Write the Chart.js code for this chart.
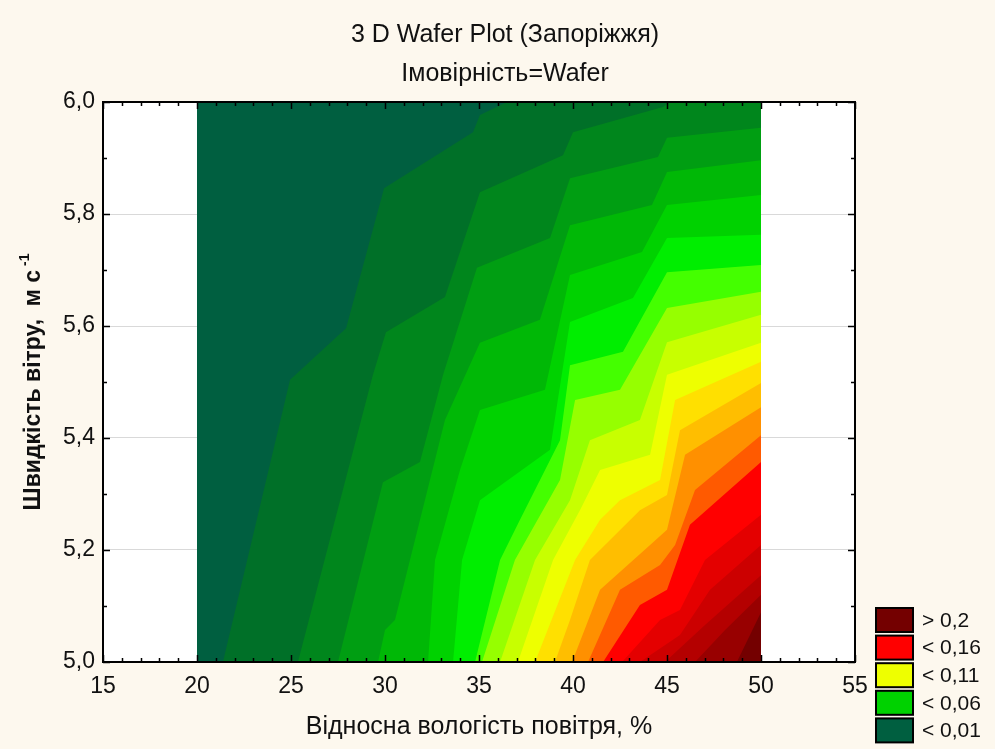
<!DOCTYPE html>
<html>
<head>
<meta charset="utf-8">
<title>3 D Wafer Plot</title>
<script src="https://cdn.jsdelivr.net/npm/chart.js@4.4.1/dist/chart.umd.min.js"></script>
<style>
    html, body { margin: 0; padding: 0; background: #fdf8ee; }
    #box { width: 995px; height: 749px; }
</style>
</head>
<body>
<div id="box"><canvas id="waferChart" width="995" height="749"></canvas></div>
<script>
// contour levels (probability)
const levels = [0.01, 0.02, 0.03, 0.04, 0.05, 0.06, 0.07, 0.08, 0.09, 0.10,
                0.11, 0.12, 0.13, 0.14, 0.15, 0.16, 0.17, 0.18, 0.19, 0.20];

// filled region of the wafer (humidity range)
const waferX = [20, 50];
const waferTop = 6.0;

// contour boundaries: [humidity %, wind speed m/s]
const lvl01 = [[21.38, 5.0], [24.95, 5.504], [27.93, 5.596], [29.95, 5.846], [34.68, 5.946], [35.05, 5.977], [36.49, 6.0], [50, 6.0]];
const lvl02 = [[25.37, 5.0], [29.36, 5.513], [30.05, 5.589], [33.19, 5.652], [35.05, 5.839], [39.47, 5.905], [40.0, 5.946], [44.79, 5.991], [45.16, 6.0], [50, 6.0]];
const lvl03 = [[27.5, 5.0], [29.89, 5.321], [31.86, 5.357], [33.09, 5.513], [34.89, 5.704], [38.78, 5.757], [39.84, 5.864], [44.52, 5.902], [45.0, 5.936], [50, 5.954]];
const lvl04 = [[29.63, 5.0], [30.0, 5.057], [30.53, 5.075], [33.19, 5.432], [35.05, 5.57], [38.24, 5.611], [39.84, 5.78], [44.2, 5.816], [45.0, 5.875], [50, 5.896]];
const lvl05 = [[32.29, 5.0], [32.66, 5.182], [33.99, 5.343], [35.05, 5.45], [38.51, 5.486], [39.84, 5.691], [43.67, 5.732], [45.0, 5.816], [50, 5.834]];
const lvl06 = [[33.62, 5.0], [34.1, 5.182], [35.05, 5.289], [38.78, 5.379], [39.84, 5.607], [43.19, 5.65], [45.0, 5.757], [50, 5.763]];
const lvl07 = [[34.79, 5.0], [36.12, 5.182], [37.18, 5.254], [39.31, 5.396], [39.84, 5.53], [42.66, 5.554], [45.0, 5.696], [50, 5.709]];
const lvl08 = [[35.16, 5.0], [36.91, 5.182], [39.31, 5.325], [40.11, 5.468], [42.5, 5.486], [45.0, 5.632], [50, 5.661]];
const lvl09 = [[36.12, 5.0], [37.98, 5.182], [39.84, 5.289], [40.9, 5.396], [43.56, 5.432], [45.0, 5.571], [50, 5.62]];
const lvl10 = [[37.07, 5.0], [38.94, 5.182], [40.37, 5.271], [41.44, 5.343], [44.1, 5.37], [45.0, 5.513], [50, 5.57]];
const lvl11 = [[37.98, 5.0], [40.11, 5.182], [41.44, 5.254], [42.5, 5.289], [44.63, 5.325], [45.43, 5.468], [50, 5.536]];
const lvl12 = [[39.04, 5.0], [39.84, 5.075], [40.9, 5.182], [43.56, 5.271], [45.0, 5.298], [45.69, 5.414], [50, 5.498]];
const lvl13 = [[39.95, 5.0], [41.44, 5.129], [44.1, 5.209], [45.0, 5.236], [45.96, 5.37], [50, 5.455]];
const lvl14 = [[40.8, 5.0], [42.5, 5.129], [44.63, 5.173], [45.43, 5.209], [46.49, 5.307], [50, 5.405]];
const lvl15 = [[41.6, 5.0], [43.56, 5.102], [45.0, 5.129], [46.22, 5.245], [50, 5.357]];
const lvl16 = [[42.61, 5.0], [44.63, 5.075], [45.69, 5.093], [47.02, 5.182], [50, 5.263]];
const lvl17 = [[43.56, 5.0], [45.69, 5.048], [47.29, 5.129], [50, 5.209]];
const lvl18 = [[44.89, 5.0], [47.02, 5.066], [50, 5.155]];
const lvl19 = [[46.49, 5.0], [48.09, 5.057], [50, 5.12]];
const lvl20 = [[48.72, 5.0], [50, 5.089]];

const contours = [lvl01, lvl02, lvl03, lvl04, lvl05, lvl06, lvl07, lvl08, lvl09, lvl10,
                  lvl11, lvl12, lvl13, lvl14, lvl15, lvl16, lvl17, lvl18, lvl19, lvl20];

// axis ticks
const xTicks = [15, 20, 25, 30, 35, 40, 45, 50, 55];
const yTicks = [5.0, 5.2, 5.4, 5.6, 5.8, 6.0];

// legend
const legendLabels = ['> 0,2', '< 0,16', '< 0,11', '< 0,06', '< 0,01'];
const legendBands = [20, 15, 10, 5, 0];

// colours of the bands, lowest first
const bandColors = [
    '#005f40', '#007028', '#00861c', '#009e12', '#00b806', '#00d200', '#00ee00',
    '#44ff00', '#96ff00', '#c8ff00', '#eeff00', '#ffe000', '#ffbe00', '#ff9000',
    '#ff5a00', '#ff0000', '#e40000', '#cc0000', '#b40000', '#980000', '#740000'
];

const fontFamily = "'Liberation Sans', Arial, sans-serif";
Chart.defaults.font.family = fontFamily;
Chart.defaults.color = '#111';

const datasets = [{
    label: 'base',
    data: waferX.map(x => ({ x: x, y: waferTop })),
    showLine: true,
    fill: 'start',
    backgroundColor: bandColors[0],
    borderColor: 'rgba(0,0,0,0)',
    borderWidth: 0,
    pointRadius: 0,
    order: 100
}];

contours.forEach((pts, i) => {
    datasets.push({
        label: String(levels[i]),
        data: pts.map(p => ({ x: p[0], y: p[1] })),
        showLine: true,
        fill: 'start',
        backgroundColor: bandColors[i + 1],
        borderColor: 'rgba(0,0,0,0)',
        borderWidth: 0,
        pointRadius: 0,
        tension: 0,
        order: 99 - i
    });
});

const backgroundPlugin = {
    id: 'background',
    beforeDraw(chart) {
        const { ctx, chartArea: a } = chart;
        ctx.save();
        ctx.fillStyle = '#fdf8ee';
        ctx.fillRect(0, 0, chart.width, chart.height);
        ctx.fillStyle = '#ffffff';
        ctx.fillRect(a.left, a.top, a.right - a.left, a.bottom - a.top);
        ctx.restore();
    }
};

const framePlugin = {
    id: 'frame',
    afterDatasetsDraw(chart) {
        const { ctx, chartArea: a, scales: { x, y } } = chart;
        ctx.save();
        ctx.strokeStyle = '#000';
        ctx.lineWidth = 1.5;
        ctx.beginPath();
        for (let v = 15; v <= 55; v++) {
            const px = Math.round(x.getPixelForValue(v)) + 0.5;
            const len = v % 5 === 0 ? 7 : 4;
            ctx.moveTo(px, a.bottom); ctx.lineTo(px, a.bottom - len);
            ctx.moveTo(px, a.top); ctx.lineTo(px, a.top + len);
        }
        for (let i = 0; i <= 10; i++) {
            const py = Math.round(y.getPixelForValue(5 + i / 10)) + 0.5;
            const len = i % 2 === 0 ? 7 : 4;
            ctx.moveTo(a.left, py); ctx.lineTo(a.left + len, py);
            ctx.moveTo(a.right, py); ctx.lineTo(a.right - len, py);
        }
        ctx.stroke();
        ctx.lineWidth = 2;
        ctx.strokeRect(a.left, a.top, a.right - a.left, a.bottom - a.top);
        ctx.restore();
    }
};

const yTitlePlugin = {
    id: 'yTitle',
    afterDraw(chart) {
        const { ctx, chartArea: a } = chart;
        const main = 'Швидкість вітру,  м с';
        const sup = '-1';
        ctx.save();
        ctx.fillStyle = '#111';
        ctx.textBaseline = 'middle';
        ctx.font = 'bold 23px ' + fontFamily;
        const w1 = ctx.measureText(main).width;
        ctx.font = 'bold 14px ' + fontFamily;
        const w2 = ctx.measureText(sup).width;
        ctx.translate(34, (a.top + a.bottom) / 2);
        ctx.rotate(-Math.PI / 2);
        const start = -(w1 + w2 + 4) / 2;
        ctx.textAlign = 'left';
        ctx.font = 'bold 23px ' + fontFamily;
        ctx.fillText(main, start, 0);
        ctx.font = 'bold 14px ' + fontFamily;
        ctx.fillText(sup, start + w1 + 4, -9);
        ctx.restore();
    }
};

const legendPlugin = {
    id: 'bandLegend',
    afterDraw(chart) {
        const { ctx, chartArea: a } = chart;
        ctx.save();
        ctx.font = '21px ' + fontFamily;
        ctx.textBaseline = 'middle';
        ctx.textAlign = 'left';
        legendLabels.forEach((label, i) => {
            const top = 608 + i * 27.6;
            ctx.fillStyle = bandColors[legendBands[i]];
            ctx.fillRect(a.right + 21, top, 37, 24);
            ctx.strokeStyle = '#000';
            ctx.lineWidth = 2;
            ctx.strokeRect(a.right + 21, top, 37, 24);
            ctx.fillStyle = '#111';
            ctx.fillText(label, a.right + 67, top + 13);
        });
        ctx.restore();
    }
};

const ctxWafer = document.getElementById('waferChart').getContext('2d');
const waferChart = new Chart(ctxWafer, {
    type: 'scatter',
    data: { datasets: datasets },
    options: {
        responsive: false,
        animation: false,
        devicePixelRatio: 1,
        events: [],
        layout: {
            padding: { left: 15, right: 0, top: 0, bottom: 0 }
        },
        plugins: {
            legend: { display: false },
            tooltip: { enabled: false },
            title: {
                display: true,
                text: '3 D Wafer Plot (Запоріжжя)',
                color: '#111',
                font: { size: 25, weight: 'normal', lineHeight: 1.2 },
                padding: { top: 20, bottom: 4 }
            },
            subtitle: {
                display: true,
                text: 'Імовірність=Wafer',
                color: '#111',
                font: { size: 25, weight: 'normal', lineHeight: 1.2 },
                padding: { top: 5, bottom: 13 }
            }
        },
        scales: {
            x: {
                type: 'linear',
                min: 15,
                max: 55,
                afterBuildTicks: scale => { scale.ticks = xTicks.map(v => ({ value: v })); },
                afterFit: scale => { scale.height = 87; },
                grid: { display: false, drawTicks: false },
                border: { display: false },
                ticks: {
                    color: '#111',
                    font: { size: 23 },
                    padding: 11,
                    maxRotation: 0
                },
                title: {
                    display: true,
                    text: 'Відносна вологість повітря, %',
                    color: '#111',
                    font: { size: 25, lineHeight: 1.2 },
                    padding: { top: 0, bottom: 7 }
                }
            },
            y: {
                type: 'linear',
                min: 5.0,
                max: 6.0,
                afterBuildTicks: scale => { scale.ticks = yTicks.map(v => ({ value: v })); },
                afterFit: scale => { scale.width = 88; },
                grid: { color: '#d9d9d9', lineWidth: 1, drawTicks: false },
                border: { display: false },
                ticks: {
                    color: '#111',
                    font: { size: 23 },
                    padding: 8,
                    callback: v => v.toFixed(1).replace('.', ',')
                }
            },
            side: {
                type: 'linear',
                position: 'right',
                min: 5.0,
                max: 6.0,
                afterFit: scale => { scale.width = 140; },
                grid: { display: false, drawTicks: false },
                border: { display: false },
                ticks: { display: false }
            }
        }
    },
    plugins: [backgroundPlugin, framePlugin, yTitlePlugin, legendPlugin]
});
</script>
</body>
</html>
